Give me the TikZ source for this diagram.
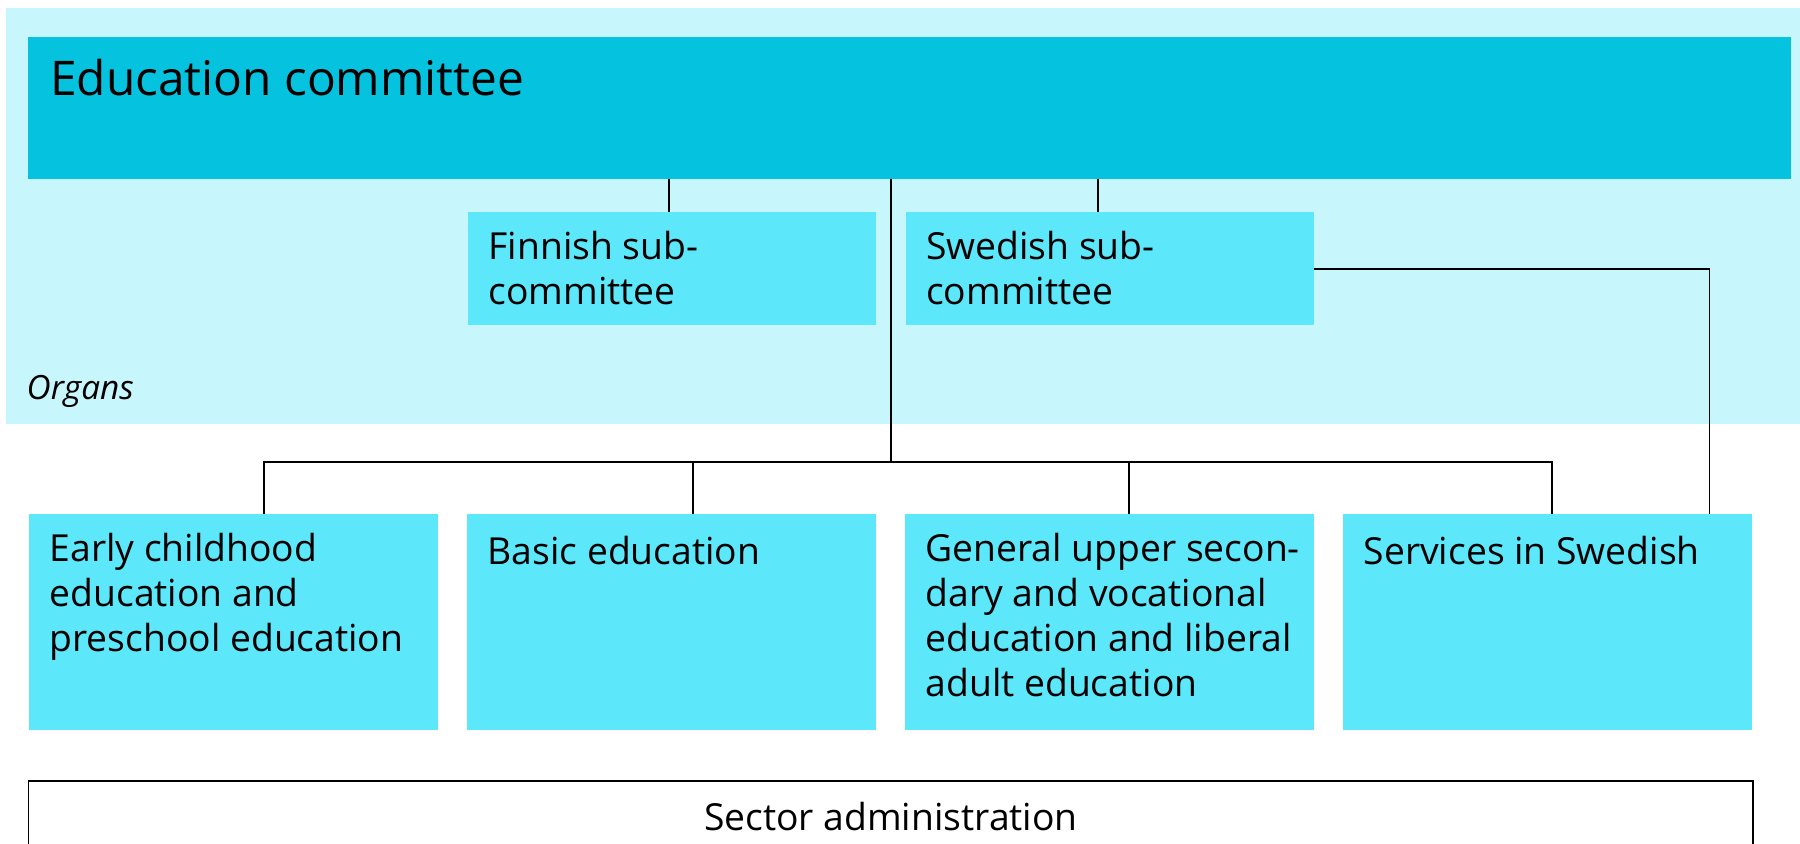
\documentclass[tikz,border=0pt]{standalone}
\usepackage{fontspec}
\setmainfont{Open Sans}
\usetikzlibrary{positioning}

\definecolor{organsbg}{RGB}{199,246,252}
\definecolor{committeeblue}{RGB}{5,194,223}
\definecolor{unitblue}{RGB}{92,231,250}

\begin{document}
\begin{tikzpicture}[x=1mm, y=1mm, node distance=2.95mm,
            box/.style={rectangle, inner sep=0pt, outer sep=0pt, anchor=north west},
            unit/.style={box, fill=unitblue, minimum width=40.85mm, minimum height=21.6mm},
            sub/.style={box, fill=unitblue, minimum width=40.8mm, minimum height=11.35mm},
            boxtext/.style={anchor=north west, inner sep=0pt, align=left,
                font=\fontsize{10.6}{12.8}\selectfont, execute at begin node=\strut},
            innertext/.style={boxtext, xshift=2mm, yshift=-1.85mm},
            link/.style={line width=0.45pt}]
    \useasboundingbox (0,0) rectangle (180,-84.4);

    % Organs
    \node[box, fill=organsbg, minimum width=179.4mm, minimum height=41.6mm,
        label={[anchor=base west, inner sep=0pt, xshift=2mm, yshift=2.45mm,
            font=\fontsize{9.5}{11}\selectfont\itshape]south west:Organs}] (organs) at (0.6,-0.8) {};
    \node[box, fill=committeeblue, minimum width=176.35mm, minimum height=14.2mm,
        label={[boxtext, xshift=2.2mm, yshift=-1.65mm, font=\fontsize{13.6}{17}\selectfont]north west:Education committee}] (committee) at (2.75,-3.67) {};
    \node[sub, label={[innertext]north west:Finnish sub-\\committee}] (finnish) at (46.8,-21.2) {};
    \node[sub, right=of finnish, label={[innertext]north west:Swedish sub-\\committee}] (swedish) {};

    % Units
    \node[unit, label={[innertext]north west:Early childhood\\education and\\preschool education}] (early) at (2.9,-51.4) {};
    \node[unit, right=of early, label={[innertext]north west:Basic education}] (basic) {};
    \node[unit, right=of basic, label={[innertext]north west:General upper secon-\\dary and vocational\\education and liberal\\adult education}] (general) {};
    \node[unit, right=of general, label={[innertext]north west:Services in Swedish}] (services) {};

    \node[box, draw, line width=0.45pt, minimum width=172.45mm, minimum height=10mm,
        label={[boxtext, anchor=north, yshift=-1.75mm]north:Sector administration}] (sector) at (2.87,-78.1) {};

    % Connectors
    \path (finnish.east) -- coordinate[midway] (gap) (swedish.west);
    \coordinate (bus) at (88.9,-46.2);
    \draw[link] ([xshift=-0.3mm]finnish.north) -- ([xshift=-0.3mm]finnish.north |- committee.south);
    \draw[link] ([xshift=-1.15mm]swedish.north) -- ([xshift=-1.15mm]swedish.north |- committee.south);
    \draw[link] (gap |- committee.south) -- (gap |- bus);
    \draw[link] ([xshift=3.05mm]early.north) |- (bus) -| ([xshift=0.45mm]services.north);
    \draw[link] ([xshift=2.2mm]basic.north) -- ([xshift=2.2mm]basic.north |- bus);
    \draw[link] ([xshift=2mm]general.north) -- ([xshift=2mm]general.north |- bus);
    \draw[link] (swedish.east) -| ([xshift=-4.2mm]services.north east);
\end{tikzpicture}
\end{document}
